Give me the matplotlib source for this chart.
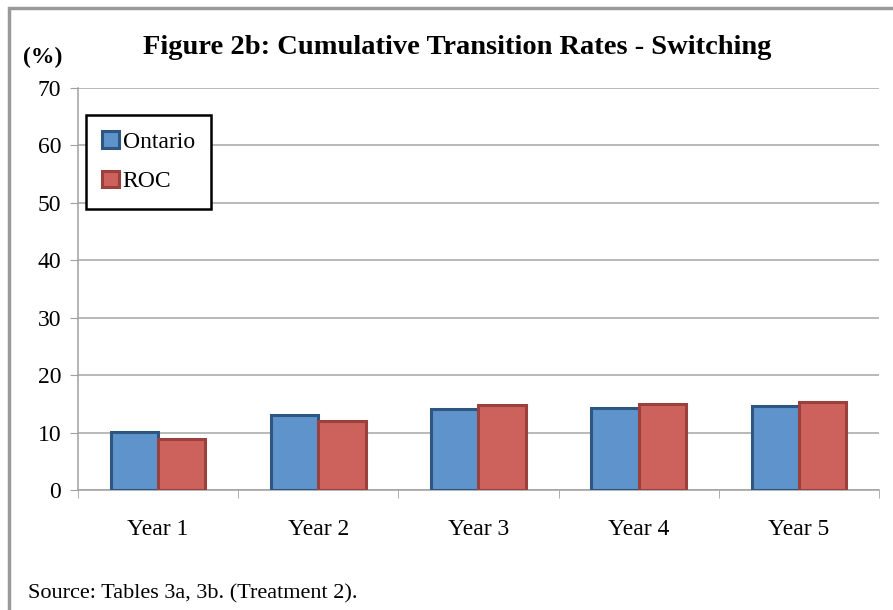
import matplotlib.pyplot as plt
import numpy as np
from matplotlib.patches import Rectangle

plt.rcParams['font.family'] = ['Liberation Serif', 'DejaVu Serif']

# Данные
years = ["Year 1", "Year 2", "Year 3", "Year 4", "Year 5"]
ontario = [10.1, 13.1, 14.1, 14.3, 14.6]
roc = [8.9, 12.0, 14.8, 15.0, 15.3]

fig = plt.figure(figsize=(8.93, 6.10), dpi=100)
ax = fig.add_axes([0.0873, 0.1967, 0.8970, 0.659])

x = np.arange(len(years))
w = 0.295
ax.bar(x - w / 2, ontario, w, color='#5E93CB', edgecolor='#2F5581', linewidth=2.2,
       label='Ontario', zorder=3)
ax.bar(x + w / 2, roc, w, color='#CD625D', edgecolor='#9C403D', linewidth=2.2,
       label='ROC', zorder=3)

ax.set_xlim(-0.5, len(years) - 0.5)
ax.set_ylim(0, 70)
ax.set_yticks(range(0, 71, 10))
ax.set_xticks(x)
ax.set_xticklabels(years)
ax.set_xticks(np.arange(-0.5, len(years), 1), minor=True)
ax.tick_params(axis='x', which='major', length=0, pad=21, labelsize=17)
ax.tick_params(axis='x', which='minor', length=6, color='#A0A0A0', direction='out')
ax.tick_params(axis='y', length=6, color='#A0A0A0', labelsize=17, pad=6)
ax.grid(axis='y', color='#A6A6A6', linewidth=1.1, zorder=0)
for s in ['top', 'right']:
    ax.spines[s].set_visible(False)
for s in ['left', 'bottom']:
    ax.spines[s].set_color('#A0A0A0')
    ax.spines[s].set_linewidth(1.1)

leg = ax.legend(loc='upper left', bbox_to_anchor=(0.01, 0.933), fontsize=17,
                fancybox=False, framealpha=1, edgecolor='black', borderpad=0.7,
                labelspacing=0.75, handlelength=0.7, handleheight=0.7,
                handletextpad=0.15, borderaxespad=0)
leg.get_frame().set_linewidth(1.8)

fig.text(0.512, 0.922, "Figure 2b: Cumulative Transition Rates - Switching",
         ha='center', va='center', fontsize=20.5, fontweight='bold')
fig.text(0.048, 0.906, "(%)", ha='center', va='center', fontsize=17, fontweight='bold')
fig.text(0.031, 0.026, "Source: Tables 3a, 3b. (Treatment 2).", ha='left', va='center',
         fontsize=16)

# Рамка
fig.add_artist(Rectangle((0.01, -0.05), 1.2, 1.037, transform=fig.transFigure,
                         fill=False, edgecolor='#9A9A9A', linewidth=2.5))

plt.savefig('out.png', dpi=100)
